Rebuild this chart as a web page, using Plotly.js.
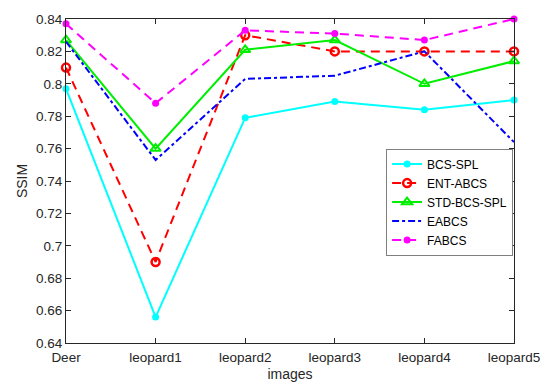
<!DOCTYPE html>
<html>
<head>
<meta charset="utf-8">
<script src="https://cdn.plot.ly/plotly-3.0.1.min.js"></script>
<style>html,body{margin:0;padding:0;background:#fff}#chart{width:547px;height:388px}</style>
</head>
<body>
<div id="chart"></div>
<script>
const categories = ["Deer", "leopard1", "leopard2", "leopard3", "leopard4", "leopard5"];
const bcsSpl    = [0.797, 0.656, 0.779, 0.789, 0.784, 0.790];
const entAbcs   = [0.810, 0.690, 0.830, 0.820, 0.820, 0.820];
const stdBcsSpl = [0.827, 0.760, 0.821, 0.827, 0.800, 0.814];
const eabcs     = [0.826, 0.753, 0.803, 0.805, 0.820, 0.764];
const fabcs     = [0.837, 0.788, 0.833, 0.831, 0.827, 0.840];
const yTicks = [0.64, 0.66, 0.68, 0.7, 0.72, 0.74, 0.76, 0.78, 0.8, 0.82, 0.84];
const yTickLabels = ["0.64", "0.66", "0.68", "0.7", "0.72", "0.74", "0.76", "0.78", "0.8", "0.82", "0.84"];

const xIdx = categories.map((c, i) => i);
const FONT = "Arial, Liberation Sans, sans-serif";

const traces = [
  {name: "BCS-SPL", y: bcsSpl, line: {color: "#00ffff", width: 2, dash: "solid"},
   marker: {symbol: "circle", size: 7, color: "#00ffff"}, mode: "lines+markers"},
  {name: "ENT-ABCS", y: entAbcs, line: {color: "#ff0000", width: 2, dash: "9px,6px"},
   marker: {symbol: "circle-open", size: 8, color: "#ff0000", line: {width: 2.5, color: "#ff0000"}}, mode: "lines+markers"},
  {name: "STD-BCS-SPL", y: stdBcsSpl, line: {color: "#00ee00", width: 2, dash: "solid"},
   marker: {symbol: "triangle-up-open", size: 9, color: "#00ee00", line: {width: 2, color: "#00ee00"}}, mode: "lines+markers"},
  {name: "EABCS", y: eabcs, line: {color: "#0000ff", width: 2, dash: "7px,3px,3px,3px"}, mode: "lines"},
  {name: "FABCS", y: fabcs, line: {color: "#ff00ff", width: 2, dash: "9px,6px"},
   marker: {symbol: "circle", size: 7, color: "#ff00ff"}, mode: "lines+markers"}
].map(t => Object.assign({x: xIdx, type: "scatter", cliponaxis: false}, t));

const axisCommon = {
  showline: true, linecolor: "#262626", linewidth: 1, mirror: "ticks",
  ticks: "inside", ticklen: 5, tickcolor: "#262626", showgrid: false, zeroline: false,
  tickfont: {family: FONT, size: 13.5, color: "#262626"}
};

const layout = {
  width: 547, height: 388,
  margin: {l: 66, r: 33, t: 19, b: 45},
  paper_bgcolor: "#fff", plot_bgcolor: "#fff",
  showlegend: true,
  xaxis: Object.assign({}, axisCommon, {
    range: [0, 5], tickmode: "array", tickvals: xIdx, ticktext: categories,
    ticklabelstandoff: 2,
    title: {text: "images", font: {family: FONT, size: 14, color: "#262626"}, standoff: 4}
  }),
  yaxis: Object.assign({}, axisCommon, {
    range: [0.64, 0.84], tickmode: "array", tickvals: yTicks, ticktext: yTickLabels,
    title: {text: "SSIM", font: {family: FONT, size: 14, color: "#262626"}, standoff: 5}
  }),
  legend: {
    x: 0.998, xanchor: "right", y: 0.6, yanchor: "top",
    bgcolor: "#fff", bordercolor: "#7f7f7f", borderwidth: 1,
    font: {family: FONT, size: 12, color: "#000"},
    tracegroupgap: 0, itemwidth: 30
  }
};

Plotly.newPlot("chart", traces, layout, {displayModeBar: false, staticPlot: true});
</script>
</body>
</html>
